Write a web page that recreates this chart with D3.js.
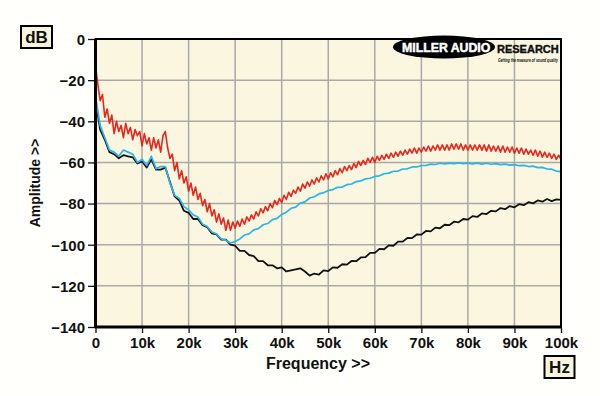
<!DOCTYPE html>
<html>
<head>
<meta charset="utf-8">
<title>Amplitude vs Frequency</title>
<script src="https://d3js.org/d3.v7.min.js"></script>
<style>
  html, body { margin: 0; padding: 0; background: #fffffb; }
  svg { display: block; }
  text { font-family: "Liberation Sans", Arial, sans-serif; font-weight: bold; fill: #111; }
</style>
</head>
<body>
<svg id="chart" width="600" height="396"></svg>
<script>
// frequency in kHz: red is read every 0.5 kHz, cyan and black every 1 kHz
let redFreqK = d3.range(0, 100.5, 0.5);
let freqK = d3.range(0, 101);

// red trace (dB)
let redDb = [-13, -22, -30, -27, -38, -34, -41, -37, -46, -40,
  -45, -42, -48, -41, -46, -43, -49, -44, -47, -45,
  -52, -46, -51, -48, -54, -48, -53, -49, -55, -47,
  -45, -53, -58, -56, -64, -60, -68, -64, -70, -67,
  -74, -70, -76, -72, -78, -75, -81, -78, -84, -80,
  -86, -83, -89, -85, -90, -87, -93, -88, -93, -89,
  -92, -88.5, -91, -87.5, -90, -86.5, -88.5, -85.5, -87.5, -84,
  -86, -82.5, -84.5, -81.5, -83.5, -80, -82, -78.5, -80.5, -77.5,
  -79.5, -76, -78, -74.5, -76.5, -73.5, -75, -72, -74, -70.5,
  -72.5, -69.5, -71.5, -68.5, -70.5, -67.5, -69.5, -66.5, -68.5, -65.5,
  -68, -65, -67, -64, -66, -63, -65, -62, -64, -61.5,
  -63.5, -60.5, -62.5, -59.5, -61.5, -59, -61, -58, -60, -57.5,
  -60, -57, -59, -56.5, -58.5, -56, -58, -55.5, -57.5, -55,
  -57, -54.5, -56.5, -54, -56, -53.5, -55.5, -53, -55.5, -53,
  -55, -52.5, -54.5, -52, -54.5, -52, -54, -51.5, -54, -51.5,
  -54, -51.5, -54, -51, -53.5, -51, -53.5, -51, -54, -51.5,
  -54, -51.5, -54, -51.5, -54, -51.5, -54, -51.5, -54.5, -51.5,
  -54.5, -52, -54.5, -52, -55, -52, -55, -52.5, -55, -52.5,
  -55.5, -53, -55.5, -53, -56, -53.5, -56, -54, -56.5, -54,
  -57, -54.5, -57.5, -55, -57.5, -55.5, -58, -56, -58.5, -56.5, -58.5];

// cyan trace (dB)
let cyanDb = [-28, -42, -48, -54, -55, -57, -54, -55, -56, -60,
  -58.5, -61.5, -57, -63, -62, -62, -70, -76, -77.5, -81.5,
  -83, -85.5, -86.5, -90, -91.2, -93.8, -94.8, -97.2, -97.8, -99.2,
  -98.4, -97.2, -95.3, -94.7, -92.8, -92.2, -90.3, -89.7, -87.8, -87.2,
  -85.3, -84.2, -82.3, -81.7, -79.8, -79.2, -77.3, -76.7, -75.3, -74.7,
  -73.6, -73.2, -72.1, -72, -70.8, -70.5, -69.3, -69, -68, -67.7,
  -66.8, -66.5, -65.5, -65.2, -64.3, -64.2, -63.2, -63.1, -62.2, -62.2,
  -61.5, -61.5, -60.8, -61, -60.4, -60.7, -60.3, -60.6, -60.2, -60.6,
  -60.3, -60.7, -60.3, -60.8, -60.4, -60.9, -60.6, -61.1, -60.8, -61.3,
  -61.1, -61.6, -61.4, -62, -61.8, -62.5, -62.4, -63.2, -63.3, -64.2, -64.5];

// black trace (dB)
let blackDb = [-30, -44, -49, -55, -56, -58, -56.5, -57, -57.5, -60.5,
  -59.5, -62.5, -58.5, -63.5, -63.5, -62.5, -69.5, -76.5, -78.5, -83.5,
  -84.5, -87.5, -87.5, -90.5, -91.5, -94.5, -95, -97.5, -97.5, -100,
  -100.5, -103, -103, -105, -105.5, -108, -108, -110, -110, -111.5,
  -111, -113, -112.5, -112, -111.5, -113, -115, -114, -114.5, -112.5,
  -112.8, -111, -111.2, -109.5, -109.7, -107.9, -108, -106.2, -106, -104,
  -104, -102, -102.2, -100.3, -100.5, -98.5, -98.5, -96.7, -96.8, -95,
  -95.1, -93.3, -93.5, -91.7, -92, -90.3, -90.5, -88.8, -89.1, -87.5,
  -87.8, -86.1, -86.5, -84.8, -85.1, -83.5, -83.8, -82.2, -82.7, -81.2,
  -81.8, -80.3, -80.8, -79.3, -79.9, -78.5, -79.1, -77.8, -78.8, -78, -78.2];

let xTicks = [0, 10, 20, 30, 40, 50, 60, 70, 80, 90, 100];
let xTickLabels = ["0", "10k", "20k", "30k", "40k", "50k", "60k", "70k", "80k", "90k", "100k"];
let yTicks = [0, -20, -40, -60, -80, -100, -120, -140];

let svg = d3.select("#chart");

// plot area edges
let plotL = 95.5, plotR = 561, plotT = 39, plotB = 327;

let x = d3.scaleLinear().domain([0, 100]).range([plotL, plotR]);
let y = d3.scaleLinear().domain([-140, 0]).range([plotB, plotT]);

// plot background
svg.append("rect")
  .attr("x", plotL).attr("y", plotT)
  .attr("width", plotR - plotL).attr("height", plotB - plotT)
  .attr("fill", "#faf6e0");

// grid
let grid = svg.append("g").attr("stroke", "#a9a9a6").attr("stroke-width", 1.5);
xTicks.slice(1, -1).forEach(function(t) {
  grid.append("line").attr("x1", x(t)).attr("x2", x(t)).attr("y1", plotT).attr("y2", plotB);
});
yTicks.slice(1, -1).forEach(function(t) {
  grid.append("line").attr("x1", plotL).attr("x2", plotR).attr("y1", y(t)).attr("y2", y(t));
});

// logo
let logo = svg.append("g");
logo.append("ellipse").attr("cx", 444).attr("cy", 47).attr("rx", 51).attr("ry", 11.5).attr("fill", "#000");
logo.append("text").attr("x", 402).attr("y", 51.5).attr("font-size", 12.3)
  .style("fill", "#fff").style("stroke", "#fff").style("stroke-width", 0.5)
  .text("MILLER AUDIO");
logo.append("text").attr("x", 497).attr("y", 53).attr("font-size", 11)
  .style("stroke", "#111").style("stroke-width", 0.4)
  .text("RESEARCH");
logo.append("text").attr("x", 498).attr("y", 61.5).attr("font-size", 5)
  .attr("textLength", 60).attr("lengthAdjust", "spacingAndGlyphs")
  .style("font-style", "italic").text("Getting the measure of sound quality");

// traces
let line = d3.line()
  .x(function(d) { return x(d[0]); })
  .y(function(d) { return y(d[1]); });

let series = [
  { freqs: freqK, values: blackDb, color: "#111111", width: 1.8 },
  { freqs: freqK, values: cyanDb, color: "#29b5e8", width: 1.7 },
  { freqs: redFreqK, values: redDb, color: "#e8261b", width: 1.6 }
];
series.forEach(function(s) {
  svg.append("path")
    .datum(s.freqs.map(function(f, i) { return [f, s.values[i]]; }))
    .attr("fill", "none")
    .attr("stroke", s.color)
    .attr("stroke-width", s.width)
    .attr("stroke-linejoin", "round")
    .attr("d", line);
});

// frame
svg.append("rect")
  .attr("x", plotL).attr("y", plotT)
  .attr("width", plotR - plotL).attr("height", plotB - plotT)
  .attr("fill", "none").attr("stroke", "#000").attr("stroke-width", 2);
svg.append("line").attr("x1", plotL).attr("x2", plotL).attr("y1", plotT).attr("y2", plotB + 1)
  .attr("stroke", "#000").attr("stroke-width", 3);
svg.append("line").attr("x1", plotL - 1).attr("x2", plotR + 1).attr("y1", plotB).attr("y2", plotB)
  .attr("stroke", "#000").attr("stroke-width", 3);

// axes
let xAxis = d3.axisBottom(x).tickValues(xTicks)
  .tickFormat(function(d, i) { return xTickLabels[i]; })
  .tickSize(5).tickPadding(4);
let yAxis = d3.axisLeft(y).tickValues(yTicks)
  .tickFormat(d3.format("d")).tickSize(6).tickPadding(3);

let xGroup = svg.append("g").attr("transform", "translate(0," + (plotB + 1) + ")").call(xAxis);
let yGroup = svg.append("g").attr("transform", "translate(" + (plotL - 1.5) + ",0)").call(yAxis);
[xGroup, yGroup].forEach(function(g) {
  g.select(".domain").remove();
  g.selectAll(".tick line").attr("stroke", "#111").attr("stroke-width", 1.3);
  g.selectAll(".tick text").attr("font-size", 15)
    .style("font-family", "'Liberation Sans', Arial, sans-serif").style("font-weight", "bold").style("fill", "#111");
});
yGroup.selectAll(".tick text").attr("dy", "0.36em");

// axis titles
svg.append("text")
  .attr("transform", "translate(40," + ((plotT + plotB) / 2) + ") rotate(-90)")
  .attr("text-anchor", "middle").attr("font-size", 14)
  .text("Amplitude >>");
svg.append("text")
  .attr("x", 318).attr("y", 369).attr("text-anchor", "middle").attr("font-size", 16)
  .text("Frequency >>");

// unit boxes
function unitBox(bx, by, w, h, label) {
  svg.append("rect").attr("x", bx).attr("y", by).attr("width", w).attr("height", h)
    .attr("fill", "#f8f4dc").attr("stroke", "#000").attr("stroke-width", 2);
  svg.append("text").attr("x", bx + w / 2).attr("y", by + h / 2 + 6)
    .attr("text-anchor", "middle").attr("font-size", 17).text(label);
}
unitBox(21, 26, 31, 22, "dB");
unitBox(544.5, 356, 30, 22, "Hz");
</script>
</body>
</html>
